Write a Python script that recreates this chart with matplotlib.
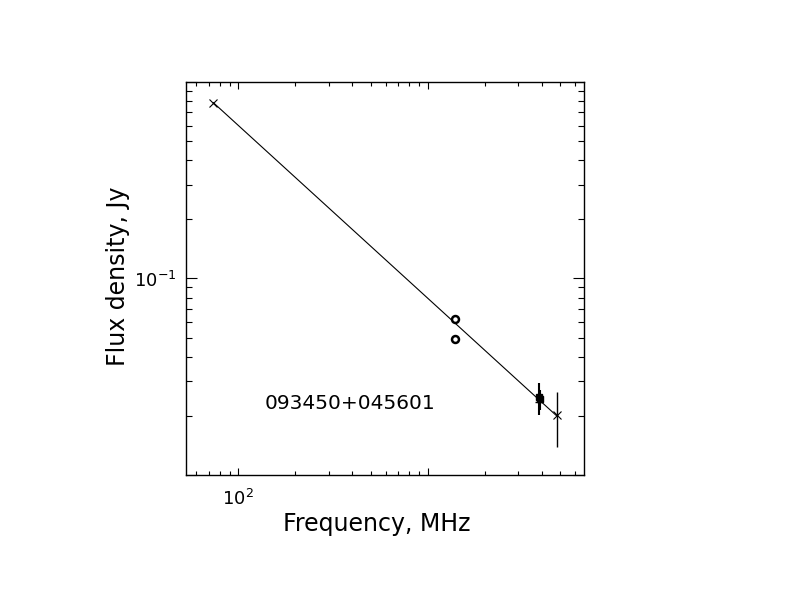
import numpy as np
import matplotlib
matplotlib.use("Agg")
import matplotlib.pyplot as plt

# ==========================
# DATA
# ==========================

source_name = "093450+045601"

# crosses (with error bars)
freq_cross = [74, 4850]
flux_cross = [0.784, 0.0201]
err_cross = [0.0, 0.0062]

# open circles
freq_circ = [1400, 1400]
flux_circ = [0.062, 0.049]

# filled squares near 4 GHz
freq_sq = [3870, 3910]
flux_sq = [0.0248, 0.0243]
err_sq = [0.0045, 0.0028]

# plus marker
freq_plus = [3880]
flux_plus = [0.0234]

# power-law fit
fit_alpha = -0.879
fit_s74 = 0.784
fit_range = [74, 4850]

xlim = [53, 6700]
ylim = [0.0101, 0.99]

# ==========================
# PLOT
# ==========================

fig = plt.figure(figsize=(7.92, 6.12), dpi=100)
ax = fig.add_axes([0.2348, 0.2239, 0.5025, 0.6422])

nu = np.array(fit_range, dtype=float)
ax.plot(nu, fit_s74 * (nu / 74.0) ** fit_alpha, color="black", lw=0.8)

ax.errorbar(freq_cross, flux_cross, yerr=err_cross, fmt="x", color="black",
            ms=6, mew=0.8, elinewidth=1.0, capsize=0)
ax.errorbar(freq_sq, flux_sq, yerr=err_sq, fmt="s", color="black",
            ms=4, elinewidth=1.5, capsize=0)
ax.plot(freq_plus, flux_plus, "+", color="black", ms=6, mew=1.0)
ax.plot(freq_circ, flux_circ, "o", mfc="white", mec="black", ms=5, mew=1.8,
        ls="none")

ax.set_xscale("log")
ax.set_yscale("log")
ax.set_xlim(xlim)
ax.set_ylim(ylim)

ax.set_xticks([100, 1000])
ax.set_xticklabels(["$10^{2}$", ""])
ax.set_yticks([0.01, 0.1, 1])
ax.set_yticklabels(["", "$10^{-1}$", ""])
ax.xaxis.set_minor_formatter(plt.NullFormatter())
ax.yaxis.set_minor_formatter(plt.NullFormatter())

ax.tick_params(which="both", direction="in", top=True, right=True,
               width=0.8, labelsize=13)
ax.tick_params(axis="x", which="major", length=5, pad=10)
ax.tick_params(axis="x", which="minor", length=3)
ax.tick_params(axis="y", which="major", length=8, pad=7)
ax.tick_params(axis="y", which="minor", length=4)
for s in ax.spines.values():
    s.set_linewidth(1.0)

ax.text(0.198, 0.183, source_name, transform=ax.transAxes,
        fontsize=14.5, va="center", ha="left")

fig.text(0.476, 0.144, "Frequency, MHz", fontsize=17,
         ha="center", va="center")
fig.text(0.149, 0.548, "Flux density, Jy", fontsize=17,
         ha="center", va="center", rotation=90)

plt.savefig("out.png", dpi=100)
